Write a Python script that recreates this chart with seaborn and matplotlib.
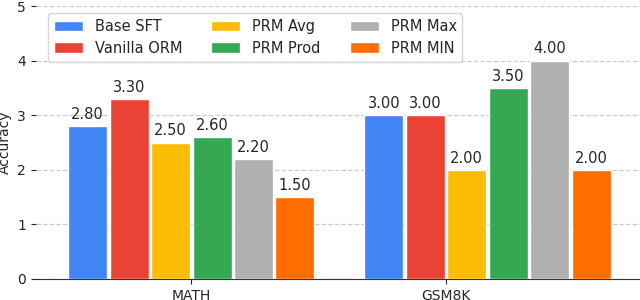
import pandas as pd
import matplotlib
matplotlib.use("Agg")
import matplotlib.pyplot as plt
import seaborn as sns

datasets = ["MATH", "GSM8K"]
methods = ["Base SFT", "Vanilla ORM", "PRM Avg", "PRM Prod", "PRM Max", "PRM MIN"]
math_scores = [2.80, 3.30, 2.50, 2.60, 2.20, 1.50]
gsm8k_scores = [3.00, 3.00, 2.00, 3.50, 4.00, 2.00]
colors = ["#4285F4", "#EA4335", "#FBBC05", "#34A853", "#B0B0B0", "#FF6D00"]

rows = []
for m, a, b in zip(methods, math_scores, gsm8k_scores):
    rows.append({"Dataset": "MATH", "Method": m, "Accuracy": a})
    rows.append({"Dataset": "GSM8K", "Method": m, "Accuracy": b})
df = pd.DataFrame(rows)

sns.set_style("white")
plt.rcParams['font.family'] = ['DejaVu Sans']
fig = plt.figure(figsize=(6.4, 3.0), dpi=100)
ax = fig.add_axes([0.056, 0.07, 0.944, 0.91])

bw = 0.84
sns.barplot(data=df, x="Dataset", y="Accuracy", hue="Method", order=datasets,
            hue_order=methods, palette=colors, saturation=1, width=bw, gap=0.06,
            edgecolor="white", linewidth=1, ax=ax, zorder=3)

for c in ax.containers:
    ax.bar_label(c, fmt="%.2f", padding=3, fontsize=10.5)

ax.set_ylim(0, 5)
ax.set_xlim(-0.525, 1.515)
ax.set_yticks([0, 1, 2, 3, 4, 5])
# the GSM8K tick in the original sits two bar slots in from the group's left edge
ax.set_xticks([0, 1 - bw / 6], datasets)
ax.yaxis.grid(True, linestyle="--", color="#cccccc", linewidth=0.9, zorder=0)
ax.set_axisbelow(True)
ax.set_xlabel("")
ax.set_ylabel("Accuracy", fontsize=10)
ax.tick_params(axis="both", labelsize=10, left=True, bottom=True, length=3.5, width=0.8)
for s in ["top", "right", "left"]:
    ax.spines[s].set_visible(False)
ax.spines["bottom"].set_color("#333333")

ax.legend(loc="upper left", ncol=3, fontsize=10.5, frameon=True, bbox_to_anchor=(0.008, 1.0),
          handlelength=2.0, columnspacing=2.0, borderpad=0.4, labelspacing=0.45)

fig.savefig("out.png", dpi=100)
